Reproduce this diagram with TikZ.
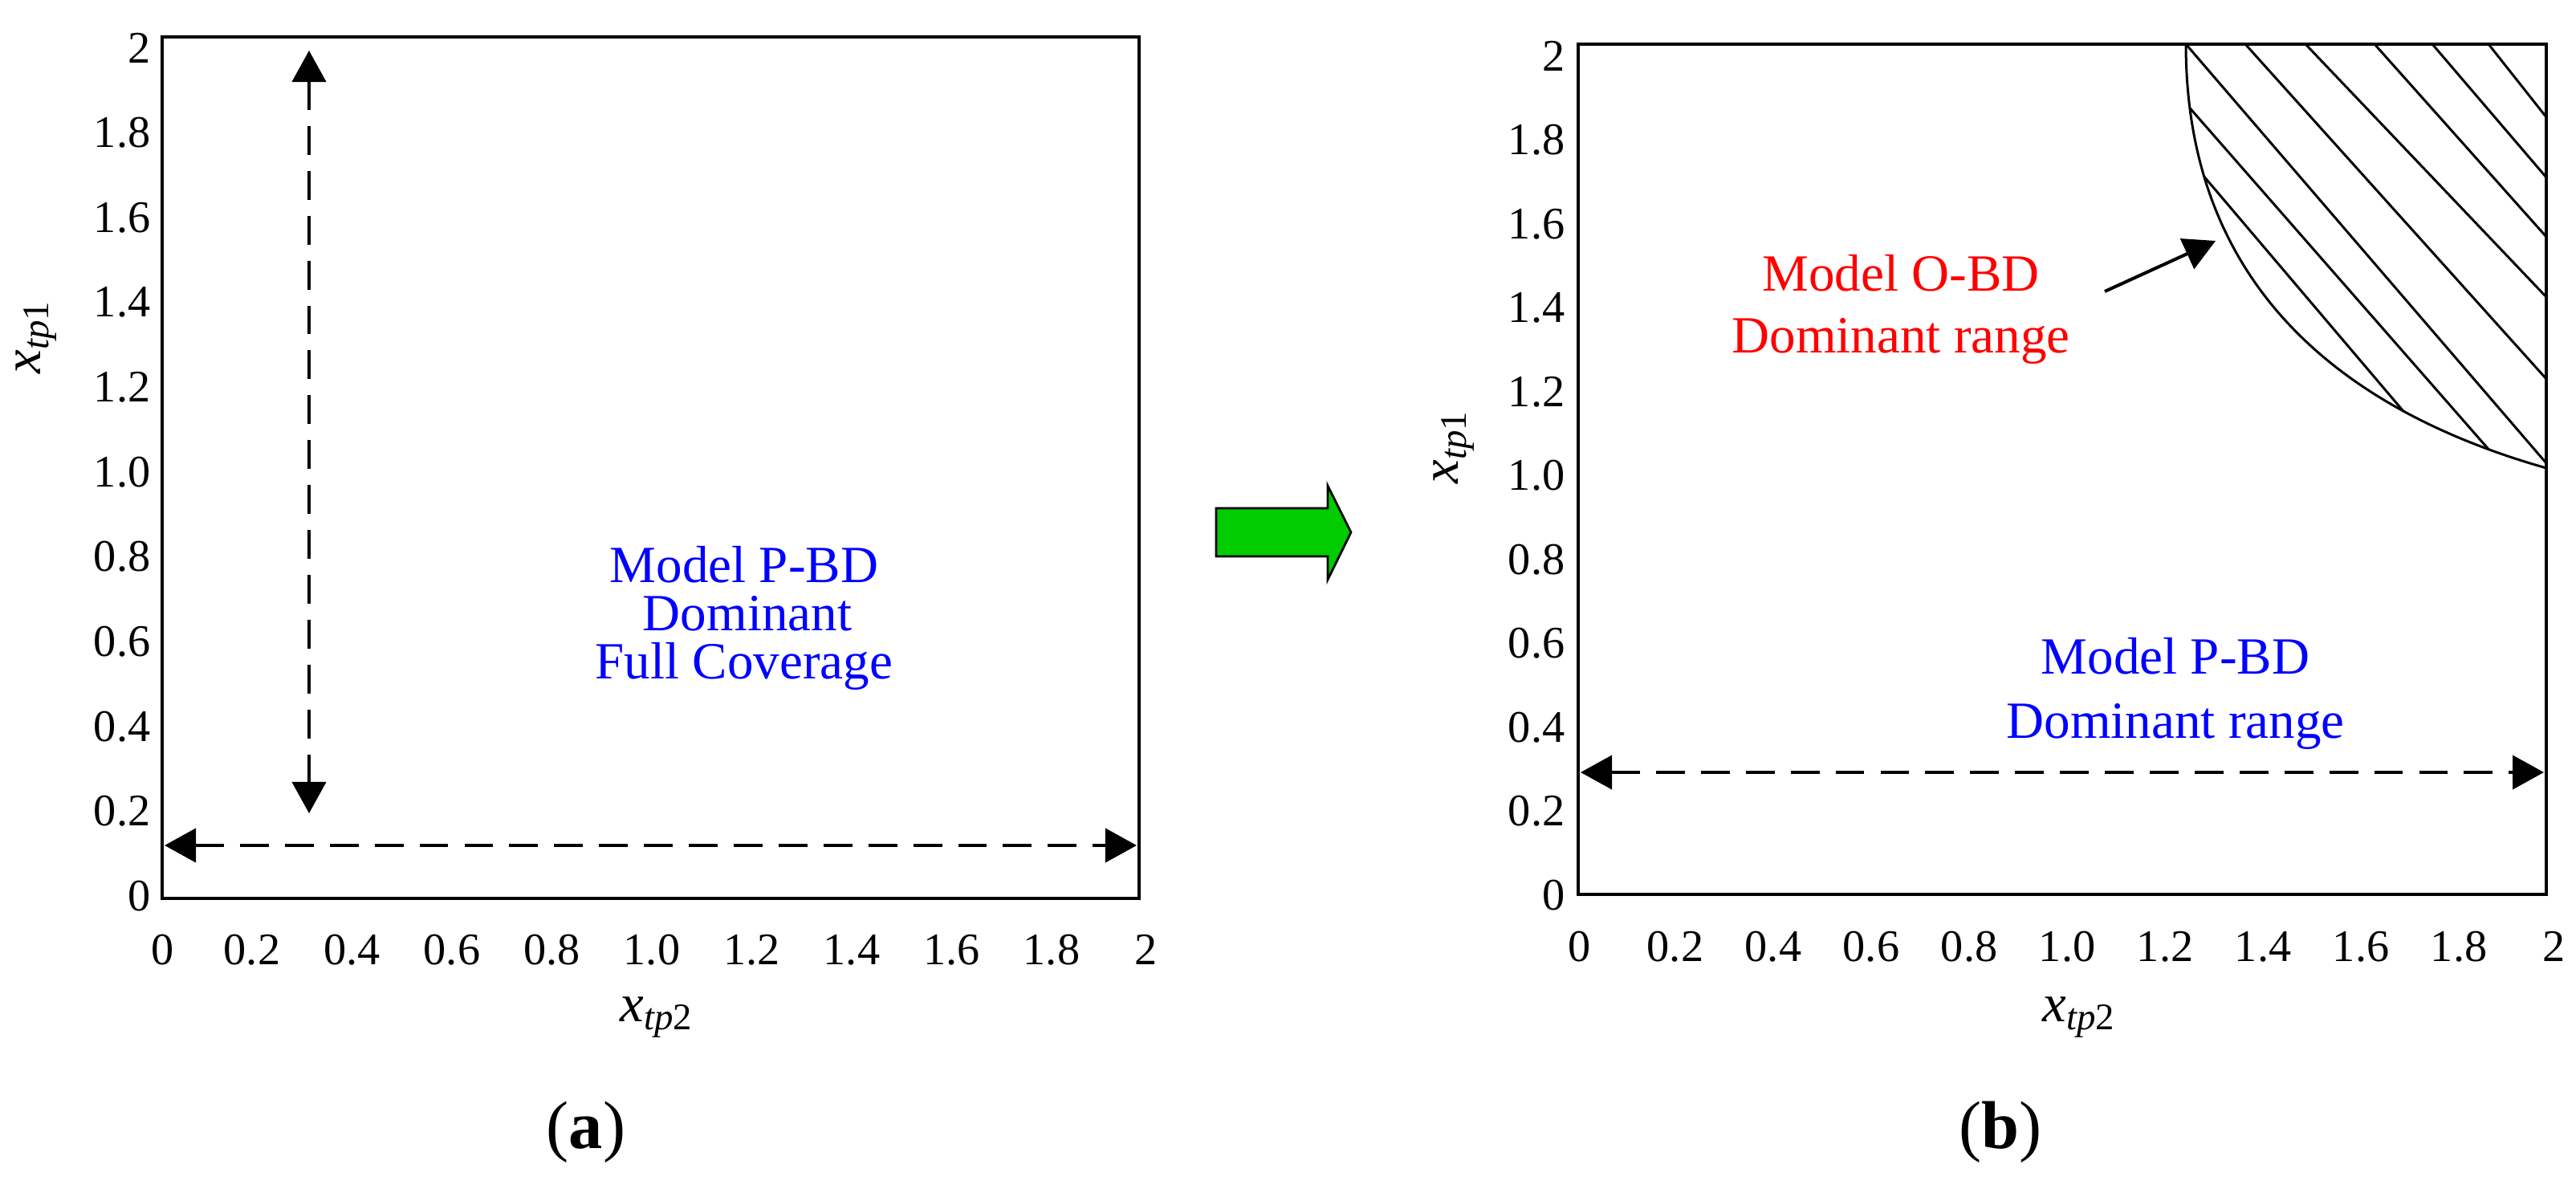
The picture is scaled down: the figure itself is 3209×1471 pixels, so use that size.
\documentclass[tikz,border=0pt]{standalone}
\usepackage{fontspec}
\setmainfont{Liberation Serif}
\usetikzlibrary{arrows.meta,calc}
\definecolor{arrowgreen}{RGB}{0,204,0}
\begin{document}
\begin{tikzpicture}[x=0.01cm,y=-0.01cm,
  frame/.style={line width=1.3pt},
  ticklab/.style={font=\fontsize{16}{19}\selectfont, inner sep=0pt},
  axlab/.style={font=\fontsize{19}{23}\selectfont, inner sep=0pt},
  bluetxt/.style={text=blue, font=\fontsize{18.5}{22}\selectfont, inner sep=0pt, anchor=base},
  redtxt/.style={text=red, font=\fontsize{18.5}{22}\selectfont, inner sep=0pt, anchor=base},
  captxt/.style={font=\fontsize{24}{28}\selectfont, inner sep=0pt, anchor=base},
  dasharrow/.style={line width=1.15pt, dash pattern=on 10.2pt off 5.7pt, {Triangle[length=0.39cm,width=0.42cm]}-{Triangle[length=0.39cm,width=0.42cm]}},
  pointer/.style={line width=1.15pt, -{Triangle[length=0.39cm,width=0.41cm]}},
  hatch/.style={line width=0.85pt},
]
\useasboundingbox (0,0) rectangle (3209,1471);

% ---------- panel (a) ----------
\draw[frame] (202,46) rectangle (1419,1119);
\foreach \lab [count=\k from 0] in {0,0.2,0.4,0.6,0.8,1.0,1.2,1.4,1.6,1.8,2}
  \node[ticklab, anchor=east] (ya\k) at (188,{1116-\k*105.6}) {\lab};
\foreach \lab/\xx [count=\k from 0] in {0/203,0.2/314,0.4/438.5,0.6/563,0.8/687.5,1.0/812,1.2/936.5,1.4/1061,1.6/1185.5,1.8/1310,2/1428}
  \node[ticklab] (xa\k) at (\xx,1183) {\lab};
\node[axlab, rotate=90] (yla) at (45,420) {\textit{x}\textsubscript{\textit{tp}1}};
\node[axlab, anchor=base] (xla) at (818,1272) {\textit{x}\textsubscript{\textit{tp}2}};

\coordinate (ahL) at (205,1053);
\coordinate (ahR) at (1416,1053);
\coordinate (avT) at (385,63);
\coordinate (avB) at (385,1013);
\draw[dasharrow] (ahL) -- (ahR);
\draw[dasharrow] (avT) -- (avB);

\node[bluetxt] (ta1) at (927,726) {Model P-BD};
\node[bluetxt] (ta2) at (931,786) {Dominant};
\node[bluetxt] (ta3) at (927,846) {Full Coverage};

\node[captxt] (capa) at (730,1430) {(\textbf{a})};

% ---------- green arrow ----------
\draw[line width=0.8pt, fill=arrowgreen, line join=miter]
  (1515,633) -- (1654,633) -- (1654,605) -- (1683,663) -- (1654,722) -- (1654,693) -- (1515,693) -- cycle;

% ---------- panel (b) ----------
\begin{scope}
  \clip (2723,55) -- (3172,55) -- (3172,583) .. controls (2950,520) and (2723,380) .. (2723,55) -- cycle;
  \foreach \ax/\ay/\bx/\by in {3100/55/3172/146, 3030/55/3172/221, 2958/55/3172/295,
      2872/55/3172/370, 2797/55/3172/472, 2723/55/3172/577, 2730/137/3103/563, 2750/225/2998/517}
    \draw[hatch] ($(\ax,\ay)!-0.6!(\bx,\by)$) -- ($(\bx,\by)!-0.6!(\ax,\ay)$);
\end{scope}
\draw[hatch] (3172,583) .. controls (2950,520) and (2723,380) .. (2723,55);

\draw[frame] (1966,55) rectangle (3172,1114);
\foreach \lab [count=\k from 0] in {0,0.2,0.4,0.6,0.8,1.0,1.2,1.4,1.6,1.8,2}
  \node[ticklab, anchor=east] (yb\k) at (1950,{1115-\k*104.5}) {\lab};
\foreach \lab/\xx [count=\k from 0] in {0/1968,0.2/2087,0.4/2209,0.6/2331,0.8/2453,1.0/2575,1.2/2697,1.4/2819,1.6/2941,1.8/3063,2/3182}
  \node[ticklab] (xb\k) at (\xx,1179) {\lab};
\node[axlab, rotate=90] (ylb) at (1811,557) {\textit{x}\textsubscript{\textit{tp}1}};
\node[axlab, anchor=base] (xlb) at (2590,1272) {\textit{x}\textsubscript{\textit{tp}2}};

\coordinate (bhL) at (1969,962);
\coordinate (bhR) at (3169,962);
\draw[dasharrow] (bhL) -- (bhR);

\node[redtxt] (tr1) at (2368,363) {Model O-BD};
\node[redtxt] (tr2) at (2368,440) {Dominant range};
\coordinate (ptail) at (2622,363);
\coordinate (phead) at (2760,300);
\draw[pointer] (ptail) -- (phead);

\node[bluetxt] (tb1) at (2710,840) {Model P-BD};
\node[bluetxt] (tb2) at (2710,920) {Dominant range};

\node[captxt] (capb) at (2492,1430) {(\textbf{b})};
\end{tikzpicture}
\end{document}
